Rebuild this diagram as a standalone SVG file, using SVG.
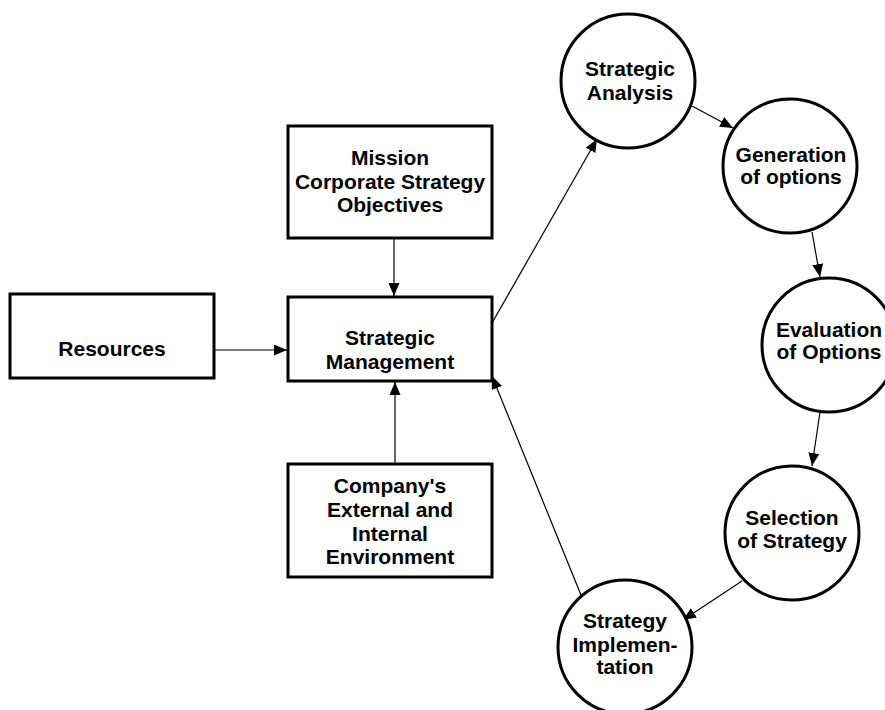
<svg xmlns="http://www.w3.org/2000/svg" width="885" height="710" viewBox="0 0 885 710">
  <style>
    .box { fill: #ffffff; stroke: #000000; stroke-width: 3; }
    .node { fill: #ffffff; stroke: #000000; stroke-width: 3; }
    .lbl { font-family: "Liberation Sans", Arial, sans-serif; font-weight: bold; font-size: 21px; fill: #000000; text-anchor: middle; }
    .link { stroke: #000000; stroke-width: 1.2; fill: none; marker-end: url(#head); }
  </style>
  <defs>
    <marker id="head" viewBox="0 0 13 11" refX="13" refY="5.5" markerWidth="13" markerHeight="11" markerUnits="userSpaceOnUse" orient="auto">
      <path d="M0,0 L13,5.5 L0,11 Z" fill="#000000"/>
    </marker>
  </defs>

  <g id="connectors">
    <line class="link" x1="214" y1="350" x2="287" y2="350"/>
    <line class="link" x1="394" y1="239" x2="394" y2="296"/>
    <line class="link" x1="395" y1="463" x2="395" y2="382"/>
    <line class="link" x1="492" y1="323" x2="597" y2="139"/>
    <line class="link" x1="692" y1="106" x2="733" y2="128"/>
    <line class="link" x1="812" y1="232" x2="820" y2="277"/>
    <line class="link" x1="820" y1="412" x2="812" y2="466"/>
    <line class="link" x1="742" y1="581" x2="683" y2="620"/>
    <line class="link" x1="581" y1="595" x2="492" y2="376"/>
  </g>

  <g id="resources">
    <rect class="box" x="10" y="294" width="204" height="84"/>
    <text class="lbl" x="112" y="356">Resources</text>
  </g>

  <g id="mission">
    <rect class="box" x="288" y="126" width="204" height="112"/>
    <text class="lbl" x="390" y="165">Mission</text>
    <text class="lbl" x="390" y="189">Corporate Strategy</text>
    <text class="lbl" x="390" y="212">Objectives</text>
  </g>

  <g id="strategic-management">
    <rect class="box" x="288" y="297" width="204" height="84"/>
    <text class="lbl" x="390" y="345">Strategic</text>
    <text class="lbl" x="390" y="369">Management</text>
  </g>

  <g id="environment">
    <rect class="box" x="288" y="464" width="204" height="113"/>
    <text class="lbl" x="390" y="493">Company's</text>
    <text class="lbl" x="390" y="517">External and</text>
    <text class="lbl" x="390" y="541">Internal</text>
    <text class="lbl" x="390" y="564">Environment</text>
  </g>

  <g id="strategic-analysis">
    <circle class="node" cx="628" cy="81" r="67"/>
    <text class="lbl" x="630" y="76">Strategic</text>
    <text class="lbl" x="630" y="100">Analysis</text>
  </g>

  <g id="generation">
    <circle class="node" cx="790" cy="166" r="67"/>
    <text class="lbl" x="791" y="162">Generation</text>
    <text class="lbl" x="791" y="184">of options</text>
  </g>

  <g id="evaluation">
    <circle class="node" cx="829" cy="345" r="67"/>
    <text class="lbl" x="829" y="337">Evaluation</text>
    <text class="lbl" x="829" y="359">of Options</text>
  </g>

  <g id="selection">
    <circle class="node" cx="792" cy="533" r="67"/>
    <text class="lbl" x="792" y="525">Selection</text>
    <text class="lbl" x="792" y="548">of Strategy</text>
  </g>

  <g id="implementation">
    <circle class="node" cx="625" cy="647" r="67"/>
    <text class="lbl" x="625" y="628">Strategy</text>
    <text class="lbl" x="625" y="652">Implemen-</text>
    <text class="lbl" x="625" y="674">tation</text>
  </g>
</svg>
